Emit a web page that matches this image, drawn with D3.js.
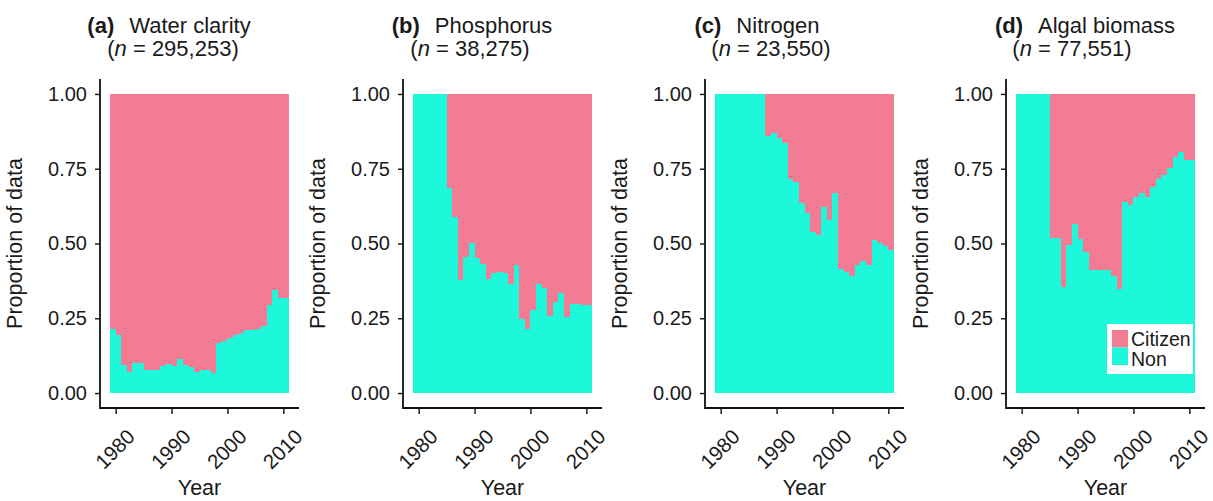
<!DOCTYPE html>
<html>
<head>
<meta charset="utf-8">
<script src="https://cdn.jsdelivr.net/npm/d3@7/dist/d3.min.js"></script>
<style>
  body { margin: 0; background: #fff; }
  text { font-family: "Liberation Sans", Arial, Helvetica, sans-serif; fill: #1a1a1a; }
</style>
</head>
<body>
<div id="chart"></div>
<script>
// years on the x axis (one bar per year)
var years = [1979, 1980, 1981, 1982, 1983, 1984, 1985, 1986, 1987, 1988, 1989,
  1990, 1991, 1992, 1993, 1994, 1995, 1996, 1997, 1998, 1999,
  2000, 2001, 2002, 2003, 2004, 2005, 2006, 2007, 2008, 2009, 2010];

// proportion of "Non" (non-citizen) data per year, citizen = 1 - non
var waterNon = [0.214, 0.195, 0.095, 0.072, 0.100, 0.100, 0.078, 0.078, 0.078, 0.089, 0.098,
  0.089, 0.114, 0.095, 0.087, 0.072, 0.078, 0.078, 0.067, 0.167, 0.173,
  0.184, 0.195, 0.200, 0.210, 0.210, 0.214, 0.225, 0.295, 0.343, 0.317, 0.317];
var phosNon = [1, 1, 1, 1, 1, 1, 0.685, 0.588, 0.379, 0.454, 0.501,
  0.451, 0.432, 0.381, 0.403, 0.406, 0.403, 0.365, 0.429, 0.247, 0.214,
  0.276, 0.365, 0.351, 0.256, 0.303, 0.334, 0.254, 0.297, 0.297, 0.295, 0.295];
var nitroNon = [1, 1, 1, 1, 1, 1, 1, 1, 1, 0.860, 0.869,
  0.852, 0.835, 0.715, 0.707, 0.637, 0.601, 0.540, 0.529, 0.621, 0.579,
  0.668, 0.414, 0.406, 0.392, 0.429, 0.440, 0.429, 0.512, 0.501, 0.490, 0.479];
var algalNon = [1, 1, 1, 1, 1, 1, 0.518, 0.518, 0.354, 0.496, 0.566,
  0.514, 0.473, 0.410, 0.412, 0.412, 0.412, 0.390, 0.347, 0.640, 0.629,
  0.657, 0.668, 0.657, 0.690, 0.715, 0.729, 0.752, 0.788, 0.807, 0.780, 0.780];

var panelLetters = ["(a)", "(b)", "(c)", "(d)"];
var panelNames = ["Water clarity", "Phosphorus", "Nitrogen", "Algal biomass"];
var sampleSizes = ["295,253", "38,275", "23,550", "77,551"];
var yTicks = [0, 0.25, 0.5, 0.75, 1];
var xTicks = [1980, 1990, 2000, 2010];
var groups = ["Citizen", "Non"];

var colors = { Citizen: "#F47B94", Non: "#1DF8DA" };

var svgWidth = 1213;
var svgHeight = 501;

var svg = d3.select("#chart")
  .append("svg")
  .attr("width", svgWidth)
  .attr("height", svgHeight);

// panel layout (left edge of each panel = y axis line)
var panelLeft = [100, 403, 705, 1006];
var panelWidth = 199;
var panelTop = 79;
var panelBottom = 408;
// title centres for the two title lines
var titleCenter1 = [169, 472, 757, 1085];
var titleCenter2 = [173, 470, 771, 1072];

var series = [waterNon, phosNon, nitroNon, algalNon];

var yScale = d3.scaleLinear()
  .domain([-0.05, 1.05])
  .range([panelBottom, panelTop]);

series.forEach(function(nonValues, p) {
  var x0 = panelLeft[p];

  var xScale = d3.scaleLinear()
    .domain([1977.2, 2012.8])
    .range([x0, x0 + panelWidth]);

  var data = years.map(function(yr, i) {
    return { year: yr, non: nonValues[i] };
  });

  var g = svg.append("g");

  // non bars from 0 up to the non proportion
  g.selectAll(".non")
    .data(data)
    .enter()
    .append("rect")
    .attr("x", d => xScale(d.year))
    .attr("width", d => xScale(d.year + 1) - xScale(d.year))
    .attr("y", d => yScale(d.non))
    .attr("height", d => yScale(0) - yScale(d.non))
    .attr("fill", colors.Non)
    .attr("shape-rendering", "crispEdges");

  // citizen bars stacked on top up to 1
  g.selectAll(".cit")
    .data(data.filter(d => d.non < 1))
    .enter()
    .append("rect")
    .attr("x", d => xScale(d.year))
    .attr("width", d => xScale(d.year + 1) - xScale(d.year))
    .attr("y", yScale(1))
    .attr("height", d => yScale(d.non) - yScale(1))
    .attr("fill", colors.Citizen)
    .attr("shape-rendering", "crispEdges");

  // y axis
  var leftAxis = d3.axisLeft(yScale)
    .tickValues(yTicks)
    .tickFormat(d3.format(".2f"))
    .tickSize(5)
    .tickPadding(8);

  var yAxis = g.append("g")
    .attr("transform", `translate(${x0}, 0)`)
    .call(leftAxis);
  yAxis.select(".domain").remove();
  yAxis.selectAll("line").attr("stroke", "#111").attr("stroke-width", 1.4);
  yAxis.selectAll("text")
    .attr("font-size", "20px")
    .attr("fill", "#1a1a1a")
    .attr("font-family", "Liberation Sans, Arial, sans-serif");

  // x axis
  var bottomAxis = d3.axisBottom(xScale)
    .tickValues(xTicks)
    .tickFormat(d3.format("d"))
    .tickSize(6);

  var xAxis = g.append("g")
    .attr("transform", `translate(0, ${panelBottom})`)
    .call(bottomAxis);
  xAxis.select(".domain").remove();
  xAxis.selectAll("line").attr("stroke", "#111").attr("stroke-width", 1.4);
  xAxis.selectAll("text")
    .attr("font-size", "20.5px")
    .attr("fill", "#1a1a1a")
    .attr("font-family", "Liberation Sans, Arial, sans-serif")
    .attr("text-anchor", "end")
    .attr("dy", null)
    .attr("y", null)
    .attr("transform", "translate(20, 30) rotate(-45)");

  // axis lines as one L shape
  g.append("path")
    .attr("d", `M${x0},${panelTop} V${panelBottom} H${x0 + panelWidth}`)
    .attr("fill", "none")
    .attr("stroke", "#111")
    .attr("stroke-width", 1.8);

  // axis titles
  g.append("text")
    .attr("transform", `translate(${x0 - 78}, ${(panelTop + panelBottom) / 2}) rotate(-90)`)
    .attr("text-anchor", "middle")
    .attr("font-size", "21.5px")
    .text("Proportion of data");

  g.append("text")
    .attr("x", x0 + panelWidth / 2)
    .attr("y", 495)
    .attr("text-anchor", "middle")
    .attr("font-size", "21.5px")
    .text("Year");

  // two line title
  var t1 = g.append("text")
    .attr("x", titleCenter1[p])
    .attr("y", 33)
    .attr("text-anchor", "middle")
    .attr("font-size", "22px");
  t1.append("tspan").attr("font-weight", "bold").text(panelLetters[p]);
  t1.append("tspan").attr("dx", 15).text(panelNames[p]);

  var t2 = g.append("text")
    .attr("x", titleCenter2[p])
    .attr("y", 56)
    .attr("text-anchor", "middle")
    .attr("font-size", "22px");
  t2.append("tspan").text("(");
  t2.append("tspan").attr("font-style", "italic").text("n");
  t2.append("tspan").text(" = " + sampleSizes[p] + ")");

  // legend only in the last panel
  if (p === 3) {
    var legend = g.append("g")
      .attr("transform", `translate(${x0 + 101}, 324)`);
    legend.append("rect")
      .attr("width", 86)
      .attr("height", 50)
      .attr("fill", "#fff");
    groups.forEach(function(name, i) {
      legend.append("rect")
        .attr("x", 5)
        .attr("y", 6 + i * 17.5)
        .attr("width", 16)
        .attr("height", 17.5)
        .attr("fill", colors[name]);
      legend.append("text")
        .attr("x", 24)
        .attr("y", 22 + i * 20)
        .attr("font-size", "19.5px")
        .text(name);
    });
  }
});
</script>
</body>
</html>
